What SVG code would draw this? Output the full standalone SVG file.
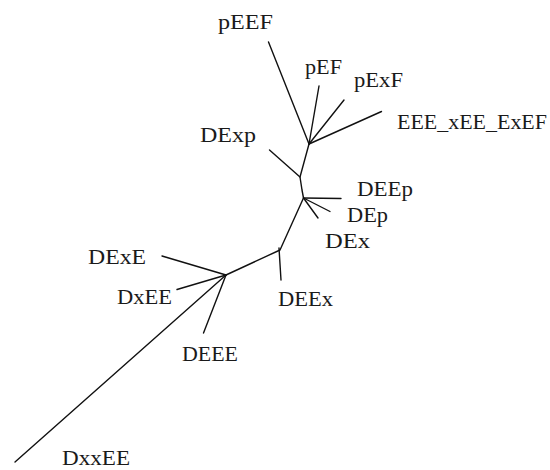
<svg xmlns="http://www.w3.org/2000/svg" width="550" height="470" viewBox="0 0 550 470">
  <style>
    .edge { stroke: #111; stroke-width: 1.4; fill: none; stroke-linecap: round; stroke-linejoin: round; }
    .lbl { font-family: "Liberation Serif", "Times New Roman", serif; font-size: 22px; fill: #1a1a1a; }
  </style>
  <rect width="550" height="470" fill="#ffffff"/>

  <!-- tree branches -->
  <g id="edges">
    <!-- internal path -->
    <path class="edge" d="M309,144 L300,177 L302,190 L303.5,198 L280,250 L226,275"/>
    <!-- top cluster -->
    <line class="edge" x1="309" y1="144" x2="268.5" y2="42"/>
    <line class="edge" x1="309" y1="144" x2="319" y2="86"/>
    <line class="edge" x1="309" y1="144" x2="344" y2="100"/>
    <line class="edge" x1="309" y1="144" x2="381.5" y2="111.5"/>
    <line class="edge" x1="300" y1="177" x2="269.5" y2="150"/>
    <!-- middle cluster -->
    <line class="edge" x1="303.5" y1="198" x2="341" y2="198.5"/>
    <line class="edge" x1="303.5" y1="198" x2="330" y2="211.5"/>
    <line class="edge" x1="303.5" y1="198" x2="318" y2="218"/>
    <line class="edge" x1="279" y1="248" x2="281" y2="280"/>
    <!-- lower cluster -->
    <line class="edge" x1="226" y1="275" x2="162" y2="256"/>
    <line class="edge" x1="226" y1="275" x2="177" y2="289.5"/>
    <line class="edge" x1="226" y1="275" x2="203.5" y2="333"/>
    <line class="edge" x1="226" y1="275" x2="15" y2="462"/>
  </g>

  <!-- leaf labels -->
  <g id="pEEF"><text class="lbl" x="218" y="29" textLength="55" lengthAdjust="spacingAndGlyphs">pEEF</text></g>
  <g id="pEF"><text class="lbl" x="305" y="74" textLength="37" lengthAdjust="spacingAndGlyphs">pEF</text></g>
  <g id="pExF"><text class="lbl" x="354" y="87" textLength="49" lengthAdjust="spacingAndGlyphs">pExF</text></g>
  <g id="EEE_xEE_ExEF"><text class="lbl" x="397" y="129" textLength="150" lengthAdjust="spacingAndGlyphs">EEE_xEE_ExEF</text></g>
  <g id="DExp"><text class="lbl" x="200" y="142" textLength="56" lengthAdjust="spacingAndGlyphs">DExp</text></g>
  <g id="DEEp"><text class="lbl" x="357" y="196" textLength="56" lengthAdjust="spacingAndGlyphs">DEEp</text></g>
  <g id="DEp"><text class="lbl" x="347" y="222" textLength="41" lengthAdjust="spacingAndGlyphs">DEp</text></g>
  <g id="DEx"><text class="lbl" x="325" y="248" textLength="45" lengthAdjust="spacingAndGlyphs">DEx</text></g>
  <g id="DExE"><text class="lbl" x="88" y="264" textLength="58" lengthAdjust="spacingAndGlyphs">DExE</text></g>
  <g id="DxEE"><text class="lbl" x="117" y="304" textLength="55" lengthAdjust="spacingAndGlyphs">DxEE</text></g>
  <g id="DEEx"><text class="lbl" x="278" y="306" textLength="55" lengthAdjust="spacingAndGlyphs">DEEx</text></g>
  <g id="DEEE"><text class="lbl" x="182" y="361" textLength="56" lengthAdjust="spacingAndGlyphs">DEEE</text></g>
  <g id="DxxEE"><text class="lbl" x="62" y="465" textLength="68" lengthAdjust="spacingAndGlyphs">DxxEE</text></g>
</svg>
